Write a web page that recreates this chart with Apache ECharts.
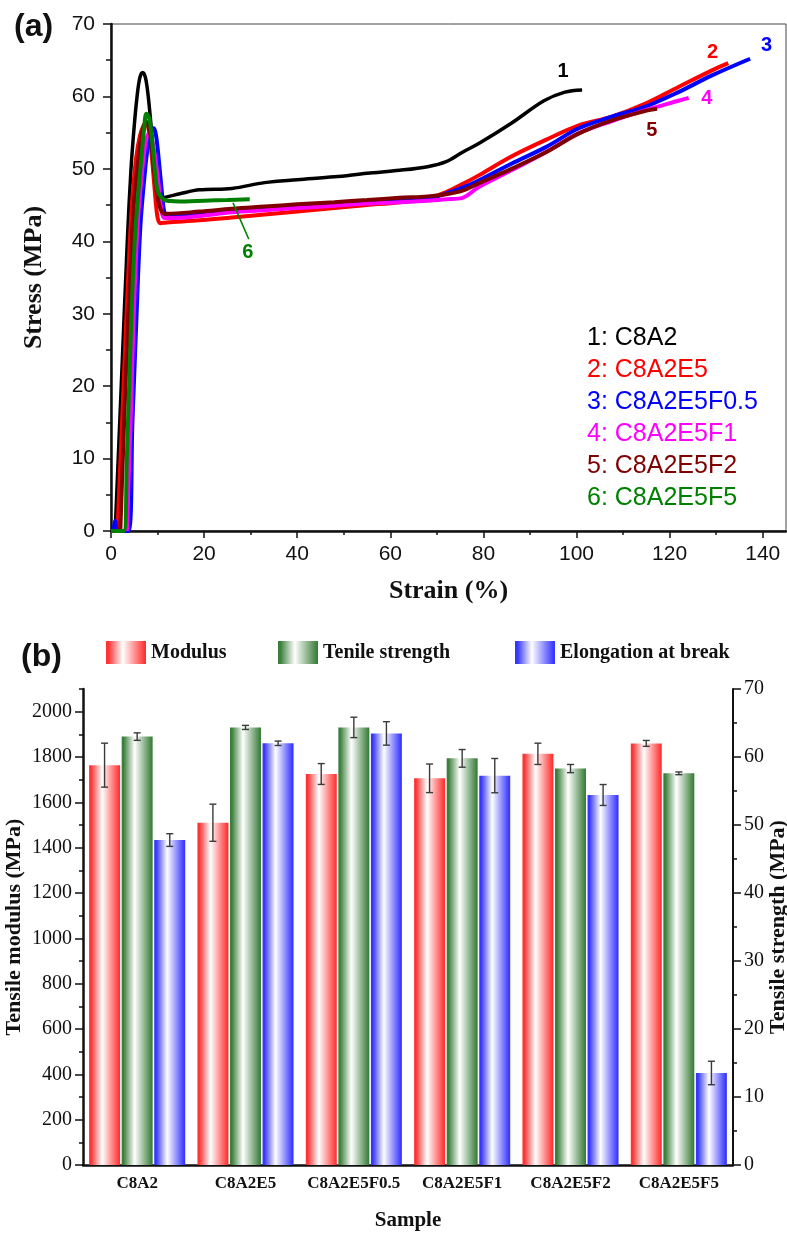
<!DOCTYPE html>
<html lang="en">
<head>
<meta charset="UTF-8">
<title>Tensile properties</title>
<style>
  html, body { margin: 0; padding: 0; background: #fff; }
  #main { width: 787px; height: 1236px; }
</style>
</head>
<body>
<div id="main"></div>
<script src="https://cdn.jsdelivr.net/npm/echarts@6/dist/echarts.min.js"></script>
<script>
// ---- (a) stress-strain curves, [strain %, stress MPa] ----
var curveNames = ['1: C8A2', '2: C8A2E5', '3: C8A2E5F0.5', '4: C8A2E5F1', '5: C8A2E5F2', '6: C8A2E5F5'];
var curveTags = ['1', '2', '3', '4', '5', '6'];
var curveC8A2 = [[0.9,0],[2.2,20],[3.5,40],[4.3,50],[5.0,56],[5.6,60],[6.2,62.6],[6.8,63.3],[7.4,62.6],[8.0,60],[8.6,56],[9.3,51],[10.0,47.5],[10.8,46],[11.8,46.1],[15,46.6],[19,47.1],[26,47.3],[33,48.1],[40,48.5],[48,48.9],[55,49.4],[62,49.8],[68,50.3],[72,51.0],[75.5,52.3],[79,53.5],[86,56.3],[93,59.4],[97.5,60.6],[101.2,60.9]];
var curveC8A2E5 = [[1.4,0],[2.7,20],[3.9,38],[4.6,46],[5.4,51.5],[6.2,54.5],[7.0,56],[7.6,56.3],[8.2,55],[8.8,51.5],[9.4,47],[10.0,43.3],[10.6,42.5],[12,42.6],[19,42.9],[26,43.3],[33,43.7],[40,44.1],[48,44.6],[55,45.0],[62,45.4],[68,45.9],[72,46.8],[75.5,47.9],[79,49.1],[86,51.7],[93.4,54.0],[100.5,56.0],[107.6,57.2],[114.8,59.0],[121.9,61.3],[129.1,63.6],[132.6,64.6]];
var curveC8A2E5F05 = [[0,0],[0.4,0],[0.9,1.4],[1.4,0],[3.7,0],[4.6,15],[5.5,30],[6.3,42],[7.2,49],[8.0,53.5],[8.7,55.3],[9.2,55.6],[9.7,54.5],[10.3,51],[10.9,47],[11.4,44.2],[12,43.5],[19,43.8],[26,44.1],[33,44.4],[40,44.8],[48,45.1],[55,45.4],[62,45.6],[68,45.9],[72,46.6],[75.5,47.4],[79,48.4],[86,50.7],[93.4,53.0],[100.5,55.6],[107.6,57.2],[114.8,58.6],[121.9,60.6],[129.1,62.9],[137.3,65.2]];
var curveC8A2E5F1 = [[3.4,0],[4.2,15],[4.9,30],[5.7,42],[6.6,49],[7.4,53.5],[8.2,55.0],[8.8,54],[9.5,51.5],[10.2,48],[10.8,44.5],[11.5,43.2],[13,43.2],[19,43.5],[26,44.0],[33,44.3],[40,44.6],[48,44.9],[55,45.2],[62,45.4],[68,45.6],[72,45.8],[75.5,46.0],[79,47.5],[86,49.8],[93.4,52.3],[100.5,54.9],[107.6,56.6],[114.8,58.1],[121.9,59.4],[124.1,59.8]];
var curveC8A2E5F2 = [[2.0,0],[3.1,20],[4.1,35],[4.9,45],[5.8,51],[6.7,55],[7.6,56.5],[8.3,55.2],[8.9,52],[9.5,48.5],[10.2,45.5],[11,44],[12,43.8],[19,44.1],[26,44.5],[33,44.8],[40,45.1],[48,45.4],[55,45.7],[62,46.0],[68,46.2],[72,46.5],[75.5,47.0],[79,48.0],[86,50.0],[93.4,52.3],[100.5,54.9],[107.6,56.7],[114.8,58.0],[117.3,58.3]];
var curveC8A2E5F5 = [[0,0],[2.7,0],[3.4,10],[4.4,30],[5.1,40],[5.9,47],[6.6,52],[7.1,55.5],[7.6,57.6],[8.2,57],[8.8,54],[9.4,50],[10.0,47],[10.9,46],[12,45.6],[16,45.5],[20,45.6],[25,45.7],[29.8,45.8]];
var tagPos = [[97.1,63.5],[129.2,66.1],[140.8,67.1],[128.0,59.7],[116.2,55.3],[29.4,38.4]];
var arrowFrom = [29.6, 40.3];
var arrowTo = [26.2, 45.3];
var strainTicks = [0, 20, 40, 60, 80, 100, 120, 140];
var strainMinor = [10, 30, 50, 70, 90, 110, 130];

// ---- (b) bar chart ----
var samples = ['C8A2', 'C8A2E5', 'C8A2E5F0.5', 'C8A2E5F1', 'C8A2E5F2', 'C8A2E5F5'];
var modulus = [1764, 1510, 1725, 1706, 1814, 1860];
var modulusErr = [97, 82, 46, 63, 47, 13];
var strength = [63.0, 64.35, 64.35, 59.8, 58.3, 57.6];
var strengthErr = [0.55, 0.3, 1.5, 1.3, 0.6, 0.2];
var elongation = [102.4, 132.9, 136.0, 122.7, 116.6, 29.0];
var elongationErr = [2.0, 0.7, 3.7, 5.4, 3.3, 3.7];
var modulusTicks = [0, 200, 400, 600, 800, 1000, 1200, 1400, 1600, 1800, 2000];
var modulusMinor = [100, 300, 500, 700, 900, 1100, 1300, 1500, 1700, 1900, 2100];

var SANS = 'Liberation Sans, Arial, sans-serif';
var SERIF = 'Liberation Serif, Times New Roman, serif';
var INK = '#111';
var curveColors = ['#000000', '#ff0000', '#0000ff', '#ff00ff', '#800000', '#008000'];
var curves = [curveC8A2, curveC8A2E5, curveC8A2E5F05, curveC8A2E5F1, curveC8A2E5F2, curveC8A2E5F5];

function barFill(c) {
  return new echarts.graphic.LinearGradient(0, 0, 1, 0, [
    { offset: 0, color: c },
    { offset: 0.06, color: c },
    { offset: 0.42, color: '#ffffff' },
    { offset: 0.97, color: c },
    { offset: 1, color: c }
  ]);
}

var myChart = echarts.init(document.getElementById('main'));
var series = [];

curves.forEach(function (d, i) {
  var s = {
    type: 'line',
    name: curveNames[i],
    xAxisIndex: 0,
    yAxisIndex: 0,
    data: d,
    showSymbol: false,
    smooth: 0.35,
    lineStyle: { width: i === 0 ? 3.5 : 4, color: curveColors[i] },
    itemStyle: { color: curveColors[i] },
    markPoint: {
      symbol: 'circle',
      symbolSize: 1,
      silent: true,
      itemStyle: { color: 'transparent' },
      label: {
        show: true, position: 'inside', formatter: curveTags[i],
        color: curveColors[i], fontFamily: SANS, fontSize: 20, fontWeight: 'bold'
      },
      data: [{ coord: tagPos[i] }]
    }
  };
  if (i === 5) {
    s.markLine = {
      silent: true,
      symbol: ['none', 'arrow'],
      symbolSize: [0, 9],
      label: { show: false },
      lineStyle: { color: curveColors[i], width: 1.5, type: 'solid' },
      data: [[{ coord: arrowFrom }, { coord: arrowTo }]]
    };
  }
  series.push(s);
});

var bars = [
  { name: 'Modulus', data: modulus, err: modulusErr, y: 1, color: '#ff3333', off: -1 },
  { name: 'Tenile strength', data: strength, err: strengthErr, y: 3, color: '#3c7f3c', off: 0 },
  { name: 'Elongation at break', data: elongation, err: elongationErr, y: 4, color: '#3636ff', off: 1 }
];
var BAR_W = 31, BAR_STEP = 32.6;

bars.forEach(function (b) {
  series.push({
    type: 'bar',
    name: b.name,
    xAxisIndex: 2,
    yAxisIndex: b.y,
    data: b.data,
    barWidth: BAR_W,
    barGap: '5%',
    itemStyle: { color: barFill(b.color) }
  });
  series.push({
    type: 'custom',
    xAxisIndex: 2,
    yAxisIndex: b.y,
    silent: true,
    z: 5,
    data: b.data.map(function (v, j) { return [j, v, b.err[j]]; }),
    renderItem: function (params, api) {
      var idx = api.value(0), v = api.value(1), e = api.value(2);
      var x = api.coord([idx, v])[0] + b.off * BAR_STEP;
      var hi = api.coord([idx, v + e])[1];
      var lo = api.coord([idx, v - e])[1];
      var st = { stroke: '#3a3a3a', lineWidth: 1.4 };
      return {
        type: 'group',
        children: [
          { type: 'line', shape: { x1: x, y1: hi, x2: x, y2: lo }, style: st },
          { type: 'line', shape: { x1: x - 3.5, y1: hi, x2: x + 3.5, y2: hi }, style: st },
          { type: 'line', shape: { x1: x - 3.5, y1: lo, x2: x + 3.5, y2: lo }, style: st }
        ]
      };
    }
  });
});

var tickLine = { color: INK, width: 1.5 };

var option = {
  animation: false,
  backgroundColor: '#fff',
  graphic: [
    { type: 'text', left: 14, top: 11, style: { text: '(a)', fontFamily: SANS, fontWeight: 'bold', fontSize: 32, fill: INK } },
    { type: 'text', left: 21, top: 641, style: { text: '(b)', fontFamily: SANS, fontWeight: 'bold', fontSize: 32, fill: INK } }
  ],
  legend: [
    {
      data: curveNames.map(function (n, i) { return { name: n, textStyle: { color: curveColors[i] } }; }),
      orient: 'vertical', left: 582, top: 325, padding: 0,
      icon: 'none', itemWidth: 0, itemHeight: 26, itemGap: 6, selectedMode: false,
      textStyle: { fontFamily: SANS, fontSize: 25, lineHeight: 26 }
    },
    {
      data: ['Modulus'], left: 106, top: 641, padding: 0, icon: 'rect',
      itemWidth: 40, itemHeight: 23, selectedMode: false,
      textStyle: { fontFamily: SERIF, fontWeight: 'bold', fontSize: 20, color: INK }
    },
    {
      data: ['Tenile strength'], left: 278, top: 641, padding: 0, icon: 'rect',
      itemWidth: 40, itemHeight: 23, selectedMode: false,
      textStyle: { fontFamily: SERIF, fontWeight: 'bold', fontSize: 20, color: INK }
    },
    {
      data: ['Elongation at break'], left: 515, top: 641, padding: 0, icon: 'rect',
      itemWidth: 40, itemHeight: 23, selectedMode: false,
      textStyle: { fontFamily: SERIF, fontWeight: 'bold', fontSize: 20, color: INK }
    }
  ],
  grid: [
    { left: 111, top: 24, width: 675, height: 507, show: true, borderColor: '#444', borderWidth: 1, outerBoundsMode: 'none', containLabel: false },
    { left: 83, top: 689, width: 650, height: 476, outerBoundsMode: 'none', containLabel: false }
  ],
  xAxis: [
    {
      gridIndex: 0, type: 'value', position: 'bottom', min: 0, max: 145, interval: 20,
      axisLine: { show: true, lineStyle: { color: INK, width: 2.5 } },
      axisTick: { show: true, length: 7, customValues: strainTicks, lineStyle: tickLine },
      axisLabel: {
        customValues: strainTicks, fontFamily: SANS, fontSize: 21, color: INK, margin: 13,
        formatter: function (v) { return v > 140 ? '' : String(v); }
      },
      splitLine: { show: false },
      name: 'Strain (%)', nameLocation: 'middle', nameGap: 47,
      nameTextStyle: { fontFamily: SERIF, fontWeight: 'bold', fontSize: 26, color: INK }
    },
    {
      gridIndex: 0, type: 'value', position: 'bottom', min: 0, max: 145,
      axisLine: { show: false },
      axisTick: { show: true, length: 4, customValues: strainMinor, lineStyle: tickLine },
      axisLabel: { show: false },
      splitLine: { show: false }
    },
    {
      gridIndex: 1, type: 'category', data: samples,
      axisLine: { show: true, lineStyle: { color: INK, width: 2.5 } },
      axisTick: { show: false },
      axisLabel: { interval: 0, fontFamily: SERIF, fontWeight: 'bold', fontSize: 17, color: INK, margin: 10 },
      name: 'Sample', nameLocation: 'middle', nameGap: 45,
      nameTextStyle: { fontFamily: SERIF, fontWeight: 'bold', fontSize: 21, color: INK }
    }
  ],
  yAxis: [
    {
      gridIndex: 0, type: 'value', position: 'left', min: 0, max: 70, interval: 10,
      axisLine: { show: true, lineStyle: { color: INK, width: 2.5 } },
      axisTick: { show: true, length: 8, lineStyle: tickLine },
      minorTick: { show: true, splitNumber: 2, length: 5, lineStyle: tickLine },
      axisLabel: { fontFamily: SANS, fontSize: 21, color: INK, margin: 16 },
      splitLine: { show: false }, minorSplitLine: { show: false },
      name: 'Stress (MPa)', nameLocation: 'middle', nameGap: 64, nameRotate: 90,
      nameMoveOverlap: false,
      nameTextStyle: { fontFamily: SERIF, fontWeight: 'bold', fontSize: 26, color: INK }
    },
    {
      gridIndex: 1, type: 'value', position: 'left', min: 0, max: 2100, interval: 100,
      axisLine: { show: true, lineStyle: { color: INK, width: 2.5 } },
      axisTick: { show: true, length: 8, customValues: modulusTicks, lineStyle: tickLine },
      axisLabel: {
        customValues: modulusTicks, fontFamily: SERIF, fontSize: 20, color: INK, margin: 11,
        formatter: function (v) { return String(v); }
      },
      splitLine: { show: false },
      name: 'Tensile modulus (MPa)', nameLocation: 'middle', nameGap: 58, nameRotate: 90,
      nameMoveOverlap: false,
      nameTextStyle: { fontFamily: SERIF, fontWeight: 'bold', fontSize: 22, color: INK }
    },
    {
      gridIndex: 1, type: 'value', position: 'left', min: 0, max: 2100,
      axisLine: { show: false },
      axisTick: { show: true, length: 4, customValues: modulusMinor, lineStyle: tickLine },
      axisLabel: { show: false },
      splitLine: { show: false }
    },
    {
      gridIndex: 1, type: 'value', position: 'right', min: 0, max: 70, interval: 10,
      axisLine: { show: true, lineStyle: { color: INK, width: 2 } },
      axisTick: { show: true, length: 8, lineStyle: tickLine },
      minorTick: { show: true, splitNumber: 2, length: 4, lineStyle: tickLine },
      axisLabel: { fontFamily: SERIF, fontSize: 20, color: INK, margin: 11 },
      splitLine: { show: false }, minorSplitLine: { show: false },
      name: 'Tensile strength (MPa)', nameLocation: 'middle', nameGap: 34, nameRotate: 90,
      nameMoveOverlap: false,
      nameTextStyle: { fontFamily: SERIF, fontWeight: 'bold', fontSize: 22, color: INK }
    },
    {
      gridIndex: 1, type: 'value', position: 'right', min: 0, max: 150, show: false
    }
  ],
  series: series
};

myChart.setOption(option);
</script>
</body>
</html>
